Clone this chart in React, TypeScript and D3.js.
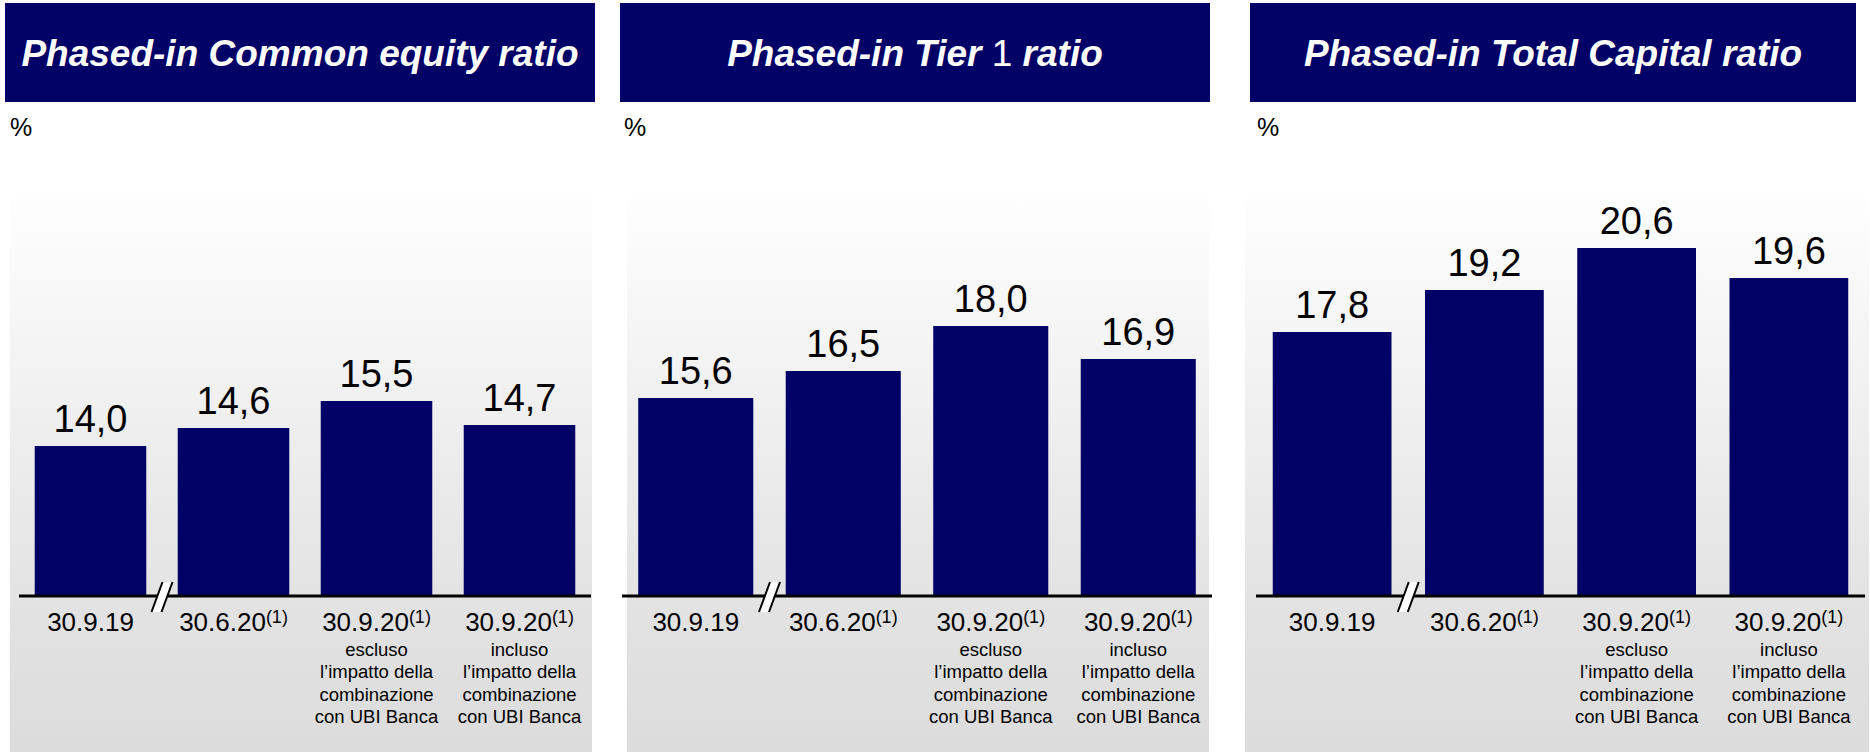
import React from "react";
import * as d3 from "d3";

// ---- data ----
const categories = ["30.9.19", "30.6.20", "30.9.20", "30.9.20"];
const superscripts = ["", "(1)", "(1)", "(1)"];
const subLabels: string[][] = [
  [],
  [],
  ["escluso", "l’impatto della", "combinazione", "con UBI Banca"],
  ["incluso", "l’impatto della", "combinazione", "con UBI Banca"],
];
const cet1Values = [14.0, 14.6, 15.5, 14.7];
const tier1Values = [15.6, 16.5, 18.0, 16.9];
const totalCapitalValues = [17.8, 19.2, 20.6, 19.6];
const unitLabel = "%";

// ---- layout ----
const W = 1870;
const H = 752;
const NAVY = "#000066";
const FONT = "'Liberation Sans', Arial, Helvetica, sans-serif";

const panels = [
  { key: "cet1", values: cet1Values, box: [5, 595], bg: [10, 592], axis: [19, 591], pct: 10 },
  { key: "t1", values: tier1Values, box: [620, 1210], bg: [627, 1209], axis: [622, 1212], pct: 624 },
  { key: "tc", values: totalCapitalValues, box: [1250, 1856], bg: [1245, 1869], axis: [1256, 1865], pct: 1257 },
];

const baseY = 596;
const y = d3.scaleLinear().domain([9, 22]).range([baseY, baseY - 13 * 30]);
const fmt = (v: number) => d3.format(".1f")(v).replace(".", ",");

function Title({ k, cx }: { k: string; cx: number }) {
  const common = {
    x: cx,
    y: 66,
    textAnchor: "middle" as const,
    fill: "#ffffff",
    fontFamily: FONT,
    fontSize: 37,
    fontWeight: "bold" as const,
    fontStyle: "italic" as const,
  };
  if (k === "cet1") return <text {...common}>Phased-in Common equity ratio</text>;
  if (k === "t1")
    return (
      <text {...common}>
        Phased-in Tier{" "}
        <tspan fontStyle="normal" fontWeight="normal">1</tspan> ratio
      </text>
    );
  return <text {...common}>Phased-in Total Capital ratio</text>;
}

function Panel({ p }: { p: (typeof panels)[number] }) {
  const x = d3
    .scaleBand<number>()
    .domain(d3.range(categories.length))
    .range([p.axis[0], p.axis[1]])
    .paddingInner(0.22)
    .paddingOuter(0.11);
  const gid = `grad-${p.key}`;
  const bw = x.bandwidth();
  const breakX = ((x(0) as number) + bw + (x(1) as number)) / 2;
  return (
    <g>
      <defs>
        <linearGradient id={gid} gradientUnits="userSpaceOnUse" x1={0} y1={197} x2={0} y2={H}>
          <stop offset="0" stopColor="#fefefe" />
          <stop offset={(baseY - 197) / (H - 197)} stopColor="#e3e3e3" />
          <stop offset="1" stopColor="#dcdcdc" />
        </linearGradient>
      </defs>
      <rect x={p.bg[0]} y={197} width={p.bg[1] - p.bg[0]} height={H - 197} fill={`url(#${gid})`} />
      <rect x={p.box[0]} y={3} width={p.box[1] - p.box[0]} height={99} fill={NAVY} />
      <Title k={p.key} cx={(p.box[0] + p.box[1]) / 2} />
      <text x={p.pct} y={136} fontFamily={FONT} fontSize={25} fill="#000">
        {unitLabel}
      </text>
      {p.values.map((v, i) => {
        const x0 = x(i) as number;
        const cx = x0 + bw / 2;
        return (
          <g key={i}>
            <rect x={x0} y={y(v)} width={bw} height={baseY - y(v)} fill={NAVY} />
            <text x={cx} y={y(v) - 14} textAnchor="middle" fontFamily={FONT} fontSize={38} fill="#000">
              {fmt(v)}
            </text>
            <text x={cx} y={631} textAnchor="middle" fontFamily={FONT} fontSize={26} fill="#000">
              {categories[i]}
              {superscripts[i] && (
                <tspan fontSize={18} dy={-8}>
                  {superscripts[i]}
                </tspan>
              )}
            </text>
            {subLabels[i].map((s, j) => (
              <text
                key={j}
                x={cx}
                y={656 + j * 22.3}
                textAnchor="middle"
                fontFamily={FONT}
                fontSize={18.5}
                fill="#000"
              >
                {s}
              </text>
            ))}
          </g>
        );
      })}
      <line x1={p.axis[0]} x2={p.axis[1]} y1={baseY} y2={baseY} stroke="#000" strokeWidth={3} />
      <polygon
        points={`${breakX - 10.5},${baseY + 16} ${breakX + 0.5},${baseY - 14} ${breakX + 10.5},${baseY - 14} ${breakX - 0.5},${baseY + 16}`}
        fill="#ffffff"
      />
      <line x1={breakX - 10.5} y1={baseY + 16} x2={breakX + 0.5} y2={baseY - 14} stroke="#000" strokeWidth={2} />
      <line x1={breakX - 0.5} y1={baseY + 16} x2={breakX + 10.5} y2={baseY - 14} stroke="#000" strokeWidth={2} />
    </g>
  );
}

export default function App() {
  return (
    <>
      <style>{`body{margin:0;background:#fff}`}</style>
      <svg width={W} height={H} style={{ display: "block" }}>
        <rect x={0} y={0} width={W} height={H} fill="#ffffff" />
        {panels.map((p) => (
          <Panel key={p.key} p={p} />
        ))}
      </svg>
    </>
  );
}
